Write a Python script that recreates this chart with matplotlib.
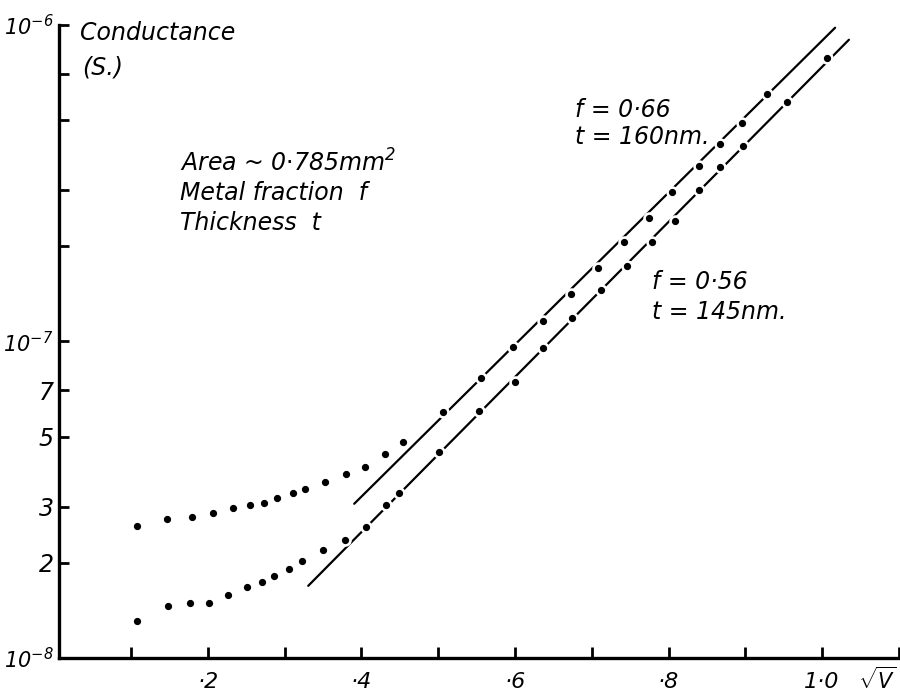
import matplotlib
matplotlib.use("Agg")
import matplotlib.pyplot as plt
from matplotlib.ticker import FixedLocator

plt.rcParams["font.family"] = "DejaVu Sans"
plt.rcParams["font.style"] = "italic"
plt.rcParams["mathtext.fontset"] = "custom"
plt.rcParams["mathtext.rm"] = "DejaVu Sans:italic"
plt.rcParams["mathtext.it"] = "DejaVu Sans:italic"

# sqrt(V) values and conductance (S)
x_f066 = [0.108, 0.146, 0.179, 0.207, 0.232, 0.255, 0.273, 0.290, 0.311, 0.327,
          0.353, 0.380, 0.405, 0.430, 0.454, 0.506, 0.556, 0.598, 0.637, 0.673,
          0.708, 0.742, 0.775, 0.805, 0.840, 0.867, 0.896, 0.928]
g_f066 = [2.61, 2.75, 2.79, 2.87, 2.98, 3.04, 3.09, 3.20, 3.32, 3.42,
          3.60, 3.81, 4.01, 4.41, 4.81, 5.99, 7.67, 9.61, 11.6, 14.1,
          17.1, 20.6, 24.6, 29.7, 35.9, 42.1, 49.0, 60.5]
x_f056 = [0.108, 0.148, 0.176, 0.202, 0.226, 0.251, 0.271, 0.286, 0.305, 0.323,
          0.350, 0.379, 0.406, 0.432, 0.449, 0.501, 0.553, 0.600, 0.637, 0.674,
          0.712, 0.746, 0.779, 0.809, 0.840, 0.867, 0.897, 0.954, 1.006]
g_f056 = [1.31, 1.46, 1.49, 1.49, 1.58, 1.68, 1.74, 1.82, 1.91, 2.02,
          2.19, 2.36, 2.59, 3.04, 3.32, 4.48, 6.03, 7.45, 9.53, 11.9,
          14.5, 17.3, 20.6, 24.0, 30.1, 35.6, 41.5, 57.1, 78.7]
G_UNIT = 1e-8

# straight-line fits drawn through the high-field part
fit066_x = [0.3905, 1.017]
fit066_g = [3.07e-8, 9.80e-7]
fit056_x = [0.3306, 1.035]
fit056_g = [1.69e-8, 8.98e-7]

xticks = [0.1, 0.2, 0.3, 0.4, 0.5, 0.6, 0.7, 0.8, 0.9, 1.0, 1.1]
xlabels = ["", "\u00b72", "", "\u00b74", "", "\u00b76", "", "\u00b78", "", "1\u00b70", ""]
ymajor = [1e-8, 1e-7, 1e-6]
ymajor_labels = [r"$10^{-8}$", r"$10^{-7}$", r"$10^{-6}$"]
yminor = [2e-8, 3e-8, 5e-8, 7e-8, 2e-7, 3e-7, 5e-7, 7e-7]
yminor_labels = ["2", "3", "5", "7", "", "", "", ""]

fig = plt.figure(figsize=(9, 6.97), dpi=100)
ax = fig.add_axes([0.0656, 0.0560, 0.9331, 0.9082])
ax.set_yscale("log")
ax.set_xlim(0.006, 1.1)
ax.set_ylim(1e-8, 1e-6)

for fx, fg in [(fit066_x, fit066_g), (fit056_x, fit056_g)]:
    ax.plot(fx, fg, color="black", lw=1.6, solid_capstyle="round", zorder=2)

# white halo under each dot breaks the fitted line, like the hand-drawn original
for xs, gs in [(x_f066, g_f066), (x_f056, g_f056)]:
    ys = [g * G_UNIT for g in gs]
    ax.plot(xs, ys, ls="none", marker="o", ms=9, mfc="white", mec="none", zorder=3)
    ax.plot(xs, ys, ls="none", marker="o", ms=4.2, mfc="black", mec="black", zorder=4)

for side in ["top", "right"]:
    ax.spines[side].set_visible(False)
for side in ["left", "bottom"]:
    ax.spines[side].set_linewidth(2.4)

ax.xaxis.set_major_locator(FixedLocator(xticks))
ax.set_xticklabels(xlabels, fontsize=16)
ax.yaxis.set_major_locator(FixedLocator(ymajor))
ax.set_yticklabels(ymajor_labels, fontsize=15)
ax.yaxis.set_minor_locator(FixedLocator(yminor))
ax.set_yticklabels(yminor_labels, minor=True, fontsize=17)
ax.tick_params(axis="x", direction="in", length=8, width=2, pad=10)
ax.tick_params(axis="y", which="both", direction="in", length=7, width=2, pad=4)

kw = dict(transform=ax.transAxes, fontsize=17, va="center", ha="left")
ax.text(0.025, 0.987, "Conductance", **kw)
ax.text(0.027, 0.932, "(S.)", **kw)
ax.text(0.144, 0.782, r"Area ~ 0$\cdot$785mm$^{2}$", **kw)
ax.text(0.144, 0.735, "Metal fraction  f", **kw)
ax.text(0.144, 0.687, "Thickness  t", **kw)
ax.text(0.6145, 0.866, "f = 0\u00b766", **kw)
ax.text(0.6145, 0.823, "t = 160nm.", **kw)
ax.text(0.706, 0.594, "f = 0\u00b756", **kw)
ax.text(0.706, 0.547, "t = 145nm.", **kw)
fig.text(0.997, 0.006, r"$\sqrt{V}$", fontsize=15, ha="right", va="bottom")

fig.savefig("out.png", dpi=100)
